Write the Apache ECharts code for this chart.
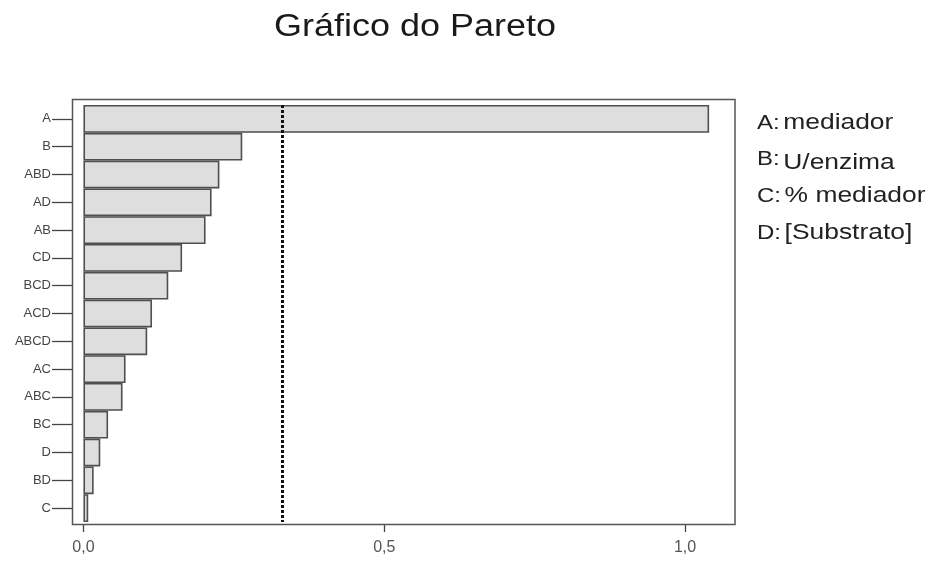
<!DOCTYPE html>
<html>
<head>
<meta charset="utf-8">
<title>Gráfico do Pareto</title>
<script src="https://cdn.jsdelivr.net/npm/echarts@6/dist/echarts.min.js"></script>
<style>
  html, body { margin: 0; padding: 0; background: #ffffff; }
  #chart { width: 936px; height: 562px; }
</style>
</head>
<body>
<div id="chart"></div>
<script>
// Standardised effects, sorted from largest to smallest
const effects = ['A', 'B', 'ABD', 'AD', 'AB', 'CD', 'BCD', 'ACD', 'ABCD', 'AC', 'ABC', 'BC', 'D', 'BD', 'C'];
const effectValues = [1.04, 0.264, 0.226, 0.213, 0.203, 0.164, 0.141, 0.114, 0.106, 0.070, 0.065, 0.041, 0.028, 0.017, 0.008];

// Significance limit drawn as the dotted reference line
const refLimit = 0.33;

// Value-axis ticks and range
const xTicks = [0, 0.5, 1.0];
const xMin = -0.019;
const xMax = 1.083;

// Factor key shown beside the plot
const factorKeys = ['A:', 'B:', 'C:', 'D:'];
const factorNames = ['mediador', 'U/enzima', '% mediador', '[Substrato]'];

const chart = echarts.init(document.getElementById('chart'), null, { renderer: 'canvas' });

const font = 'Arial, "Liberation Sans", sans-serif';

const keyTexts = factorKeys.map(function (k, i) {
  return {
    type: 'text',
    x: 757,
    y: 123 + i * 36.7,
    scaleX: 1.2,
    style: {
      text: '{k|' + k + '}{v|' + factorNames[i] + '}',
      textVerticalAlign: 'middle',
      rich: {
        k: { fontSize: 20, fontFamily: font, fill: '#222', padding: [0, 3, 0, 0] },
        v: { fontSize: 22, fontFamily: font, fill: '#222', padding: i === 1 ? [6, 0, 0, 0] : 0 }
      }
    }
  };
});

const option = {
  animation: false,
  backgroundColor: '#ffffff',
  grid: { left: 72, right: 201, top: 105, bottom: 40 },
  xAxis: {
    type: 'value',
    min: xMin,
    max: xMax,
    offset: 3,
    axisLine: { show: false, onZero: false },
    splitLine: { show: false },
    axisTick: {
      show: true,
      customValues: xTicks,
      length: 7,
      lineStyle: { color: '#444', width: 1.3 }
    },
    axisLabel: {
      customValues: xTicks,
      margin: 15,
      fontSize: 16,
      fontFamily: font,
      color: '#555',
      formatter: function (v) { return v.toFixed(1).replace('.', ','); }
    }
  },
  yAxis: {
    type: 'category',
    data: effects,
    inverse: true,
    axisLine: { show: false, onZero: false },
    axisTick: {
      show: true,
      alignWithLabel: true,
      length: 20,
      lineStyle: { color: '#444', width: 1.3 }
    },
    axisLabel: {
      margin: 21,
      fontSize: 13,
      fontFamily: font,
      color: '#444'
    }
  },
  series: [{
    type: 'bar',
    data: effectValues,
    barCategoryGap: '0%',
    itemStyle: {
      color: '#dedede',
      borderColor: '#4f4f4f',
      borderWidth: 1.6
    },
    markLine: {
      silent: true,
      symbol: 'none',
      label: { show: false },
      lineStyle: { color: '#111', width: 3, type: [3, 2] },
      data: [{ xAxis: refLimit }]
    }
  }],
  graphic: [
    {
      type: 'rect',
      shape: { x: 72.5, y: 99.5, width: 662.5, height: 425 },
      style: { fill: null, stroke: '#555', lineWidth: 1.5 },
      z: 10
    },
    {
      type: 'text',
      x: 415,
      y: 27,
      scaleX: 1.16,
      style: {
        text: 'Gráfico do Pareto',
        fontSize: 31,
        fontFamily: font,
        fill: '#1a1a1a',
        textAlign: 'center',
        textVerticalAlign: 'middle'
      }
    }
  ].concat(keyTexts)
};

chart.setOption(option);
</script>
</body>
</html>
